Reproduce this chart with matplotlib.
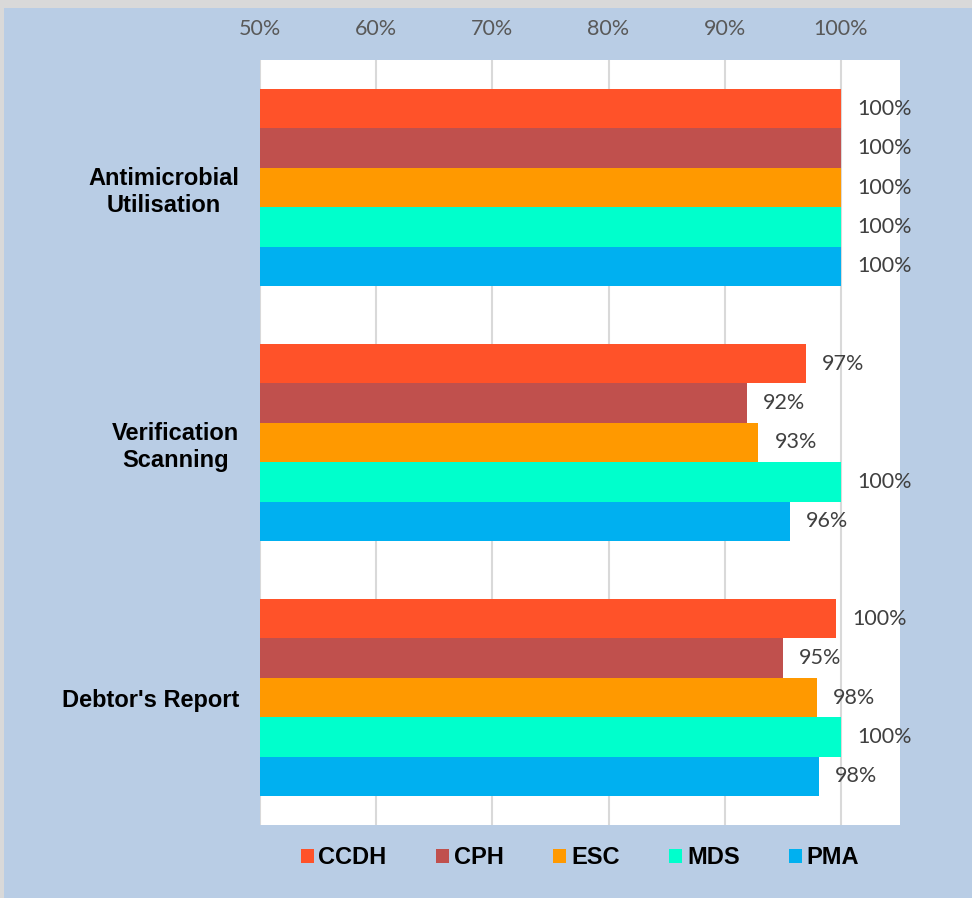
import matplotlib.pyplot as plt
import numpy as np
from matplotlib.patches import Rectangle

# Data
categories = ["Antimicrobial\nUtilisation", "Verification\nScanning", "Debtor's Report"]
series = ["CCDH", "CPH", "ESC", "MDS", "PMA"]
ccdh = [1.00, 0.970, 0.996]
cph = [1.00, 0.919, 0.950]
esc = [1.00, 0.929, 0.979]
mds = [1.00, 1.00, 1.00]
pma = [1.00, 0.956, 0.981]
values = [ccdh, cph, esc, mds, pma]
colors = ["#ff5229", "#c0504d", "#ff9900", "#00ffcc", "#00b0f0"]
ticks = [0.5, 0.6, 0.7, 0.8, 0.9, 1.0]

bg = "#b9cde5"
fig = plt.figure(figsize=(9.72, 8.98), dpi=100, facecolor="white")
# chart area border / background
fig.patches.append(Rectangle((0, 0), 1, 1, transform=fig.transFigure,
                             facecolor="#d9d9d9", edgecolor="none", zorder=-3))
fig.patches.append(Rectangle((4 / 972, 0), 1, 1 - 8 / 898, transform=fig.transFigure,
                             facecolor=bg, edgecolor="none", zorder=-2))

ax = fig.add_axes([260 / 972, 1 - 825 / 898, 640 / 972, 765 / 898])
ax.set_facecolor("white")

bar_h = 39.4 / 255
y = np.arange(len(categories))
for i, (name, vals, c) in enumerate(zip(series, values, colors)):
    pos = y - 2 * bar_h + i * bar_h
    ax.barh(pos, vals, height=bar_h, left=0, color=c, label=name, zorder=2)
    for p, v in zip(pos, vals):
        ax.annotate(f"{v * 100:.0f}%", (v, p), xytext=(11.5, 0), textcoords="offset points",
                    ha="left", va="center", fontsize=15.5, color="#404040",
                    family=["Lato", "DejaVu Sans"], zorder=3, annotation_clip=False)

ax.set_xlim(0.5, 1.0 + 59 / 1160)
ax.set_ylim(2.5, -0.5)
ax.set_xticks(ticks)
ax.set_xticklabels([f"{t * 100:.0f}%" for t in ticks], fontsize=15.5, color="#595959",
                   family=["Lato", "DejaVu Sans"])
ax.xaxis.tick_top()
ax.tick_params(axis="x", length=0, pad=15)
ax.set_yticks(y)
ax.set_yticklabels(categories, fontsize=17, fontweight="bold",
                   family=["Liberation Sans", "DejaVu Sans"], multialignment="center")
ax.tick_params(axis="y", length=0, pad=15)
ax.grid(axis="x", color="#d9d9d9", linewidth=1.5, zorder=0)
ax.set_axisbelow(True)
for s in ax.spines.values():
    s.set_visible(False)

leg = fig.legend(loc="center", bbox_to_anchor=(580 / 972, 1 - 858 / 898), ncol=5,
                 frameon=False, handlelength=0.55, handleheight=0.55, handletextpad=0.2,
                 columnspacing=2.1,
                 prop={"family": ["Liberation Sans", "DejaVu Sans"],
                       "weight": "bold", "size": 17})

fig.savefig("out.png", dpi=100, facecolor=fig.get_facecolor())
